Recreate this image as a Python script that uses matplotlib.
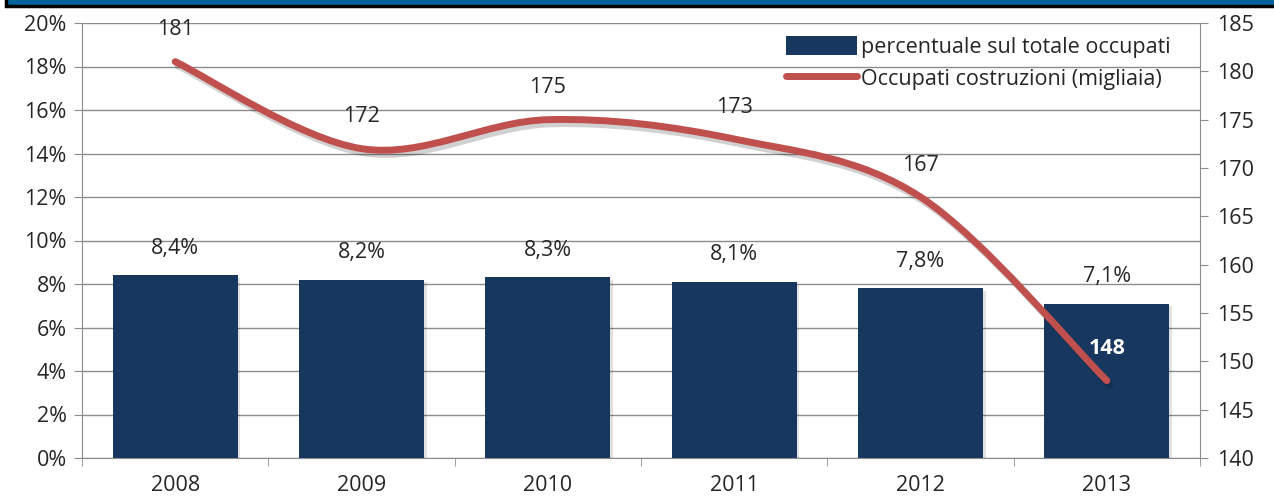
import matplotlib
matplotlib.use("Agg")
import matplotlib.pyplot as plt
import numpy as np
from matplotlib.path import Path
from matplotlib.patches import PathPatch, Rectangle
from matplotlib.lines import Line2D
import matplotlib.patheffects as pe

years = ["2008", "2009", "2010", "2011", "2012", "2013"]
share_pct = [8.4, 8.2, 8.3, 8.1, 7.8, 7.1]
share_labels = ["8,4%", "8,2%", "8,3%", "8,1%", "7,8%", "7,1%"]
employed_k = [181, 172, 175, 173, 167, 148]

bar_color = "#17375e"
line_color = "#c0504d"
grid_color = "#8c8c8c"
text_color = "#262626"
FS = 15.5

plt.rcParams['font.family'] = ['Open Sans', 'DejaVu Sans']

fig = plt.figure(figsize=(12.74, 5.0), dpi=100)
ax = fig.add_axes([82/1274, 1-458/500, (1200-82)/1274, (458-23)/500])
ax2 = ax.twinx()

x = np.arange(len(years))
ax.bar(x, share_pct, width=0.67, color=bar_color, zorder=2,
       path_effects=[pe.SimplePatchShadow(offset=(2, -2), alpha=0.12), pe.Normal()])
ax.set_xlim(-0.5, len(years) - 0.5)
ax.set_ylim(0, 20)
ax.set_yticks(np.arange(0, 21, 2))
ax.set_yticklabels([f"{v}%" for v in range(0, 21, 2)])
ax.yaxis.grid(True, color=grid_color, linewidth=1.0, zorder=0)
ax.set_axisbelow(True)
ax.set_xticks(x)
ax.set_xticklabels(years)
ax.set_xticks(np.arange(-0.5, len(years), 1), minor=True)
ax.tick_params(axis='x', which='major', length=0, pad=12, labelsize=FS, colors=text_color)
ax.tick_params(axis='x', which='minor', length=6, color=grid_color)
ax.tick_params(axis='y', length=6, color=grid_color, labelsize=FS, labelcolor=text_color, pad=5)
for s in ['top', 'right']:
    ax.spines[s].set_visible(False)
for s in ['left', 'bottom']:
    ax.spines[s].set_color(grid_color)

for xi, v, lab in zip(x, share_pct, share_labels):
    ax.annotate(lab, (xi, v), xytext=(0, 12), textcoords='offset points',
                ha='center', va='bottom', fontsize=FS, color=text_color)

ax2.set_ylim(140, 185)
ax2.set_yticks(np.arange(140, 186, 5))
ax2.tick_params(axis='y', length=6, color=grid_color, labelsize=FS, labelcolor=text_color, pad=6)
for s in ['top', 'left', 'bottom']:
    ax2.spines[s].set_visible(False)
ax2.spines['right'].set_color(grid_color)

# smoothed line (Catmull-Rom style Bezier through the data points)
pts = np.column_stack([x.astype(float), np.array(employed_k, dtype=float)])
verts = [tuple(pts[0])]
codes = [Path.MOVETO]
n = len(pts)
for i in range(n - 1):
    p0 = pts[i - 1] if i > 0 else pts[i]
    p1 = pts[i]
    p2 = pts[i + 1]
    p3 = pts[i + 2] if i + 2 < n else pts[i + 1]
    c1 = p1 + (p2 - p0) / 6.0
    c2 = p2 - (p3 - p1) / 6.0
    verts += [tuple(c1), tuple(c2), tuple(p2)]
    codes += [Path.CURVE4] * 3
patch = PathPatch(Path(verts, codes), facecolor='none', edgecolor=line_color,
                  linewidth=5, capstyle='round', zorder=3,
                  path_effects=[pe.SimpleLineShadow(offset=(2, -3), alpha=0.18, shadow_color='black'), pe.Normal()])
ax2.add_patch(patch)

for i, (xi, v) in enumerate(zip(x, employed_k)):
    last = i == len(x) - 1
    ax2.annotate(str(v), (xi, v), xytext=(0, 23), textcoords='offset points',
                 ha='center', va='center', fontsize=FS,
                 color='white' if last else text_color,
                 fontweight='bold' if last else 'normal')

handles = [Rectangle((0, 0), 1, 1, facecolor=bar_color),
           Line2D([0], [0], color=line_color, linewidth=5, solid_capstyle='round')]
leg = ax2.legend(handles, ["percentuale sul totale occupati", "Occupati costruzioni (migliaia)"],
                 loc='upper right', bbox_to_anchor=(0.985, 1.0), frameon=False,
                 fontsize=FS, handlelength=3.3, handleheight=1.0, handletextpad=0.15,
                 labelspacing=0.45, borderaxespad=0.2)
for t in leg.get_texts():
    t.set_color(text_color)

# top banner
fig.patches.append(Rectangle((6/1274, 1 - 6/500), 1.0, 0.05, transform=fig.transFigure,
                             facecolor="#00649c", edgecolor='black', linewidth=2.5, zorder=5))

fig.savefig("out.png", dpi=100)
